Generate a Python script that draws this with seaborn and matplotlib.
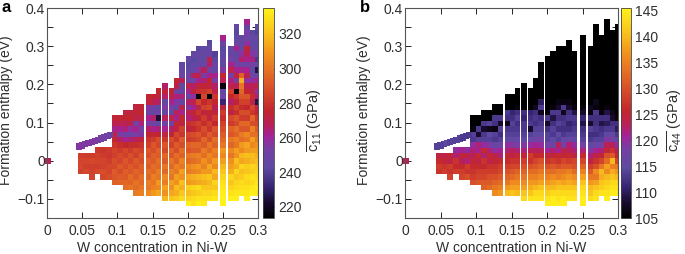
import numpy as np
import pandas as pd
import matplotlib
matplotlib.use("Agg")
import matplotlib.pyplot as plt
import seaborn as sns
from matplotlib.colors import LinearSegmentedColormap, Normalize
from matplotlib.cm import ScalarMappable

# column positions (W concentration) and lowest row of each column
col_x = [0.0476, 0.0557, 0.0638, 0.0718, 0.0799, 0.0880, 0.0960, 0.1038, 0.1115, 0.1191, 0.1268, 0.1345,
         0.1442, 0.1513, 0.1584, 0.1681, 0.1777, 0.1848, 0.1920, 0.2016, 0.2087, 0.2161, 0.2235, 0.2309,
         0.2386, 0.2502, 0.2616, 0.2693, 0.2770, 0.2846, 0.2923, 0.3000]
col_bottom = [-2, -2, -3, -2, -3, -3, -4, -4, -5, -5, -6, -6, -6, -6, -6, -7, -7, -7, -7, -8, -8, -8, -8, -7,
              -7, -8, -7, -7, -6, -7, -6, -6]
row_step = 0.014  # eV per row

# c11 per column, bottom to top
c11_cols = [
    [284, 286, 285, 283],
    [286, 283, 285, 282],
    [285, 284, 283, 286, 282],
    [287, 283, 285, 284, 281],
    [286, 288, 284, 285, 282, 280],
    [288, 285, 286, 283, 280, 282],
    [294, 290, 292, 286, 288, 283, 285, 280, 276, 272, 262, 270, 274],
    [295, 292, 288, 291, 285, 287, 282, 278, 266, 254, 262, 270, 274],
    [298, 296, 291, 293, 288, 290, 284, 286, 276, 262, 252, 264, 268, 274, 272],
    [300, 295, 297, 290, 292, 286, 289, 282, 278, 264, 250, 258, 270, 276, 272],
    [302, 297, 299, 293, 295, 289, 291, 284, 287, 278, 268, 254, 262, 252, 270, 274, 272],
    [304, 300, 296, 298, 292, 294, 288, 290, 284, 280, 272, 256, 250, 264, 272, 276, 274],
    [306, 300, 303, 296, 298, 292, 295, 289, 291, 284, 280, 274, 266, 252, 262, 248, 256, 272, 276],
    [310, 304, 300, 303, 296, 298, 292, 294, 288, 290, 282, 276, 262, 250, 266, 244, 252, 270, 274],
    [314, 306, 310, 300, 302, 296, 298, 292, 294, 286, 288, 274, 264, 246, 224, 252, 244, 266, 272, 276],
    [318, 308, 312, 302, 306, 296, 300, 292, 296, 286, 290, 280, 272, 262, 250, 268, 246, 256, 244, 266, 272, 266],
    [322, 314, 308, 312, 300, 304, 296, 300, 290, 294, 284, 288, 274, 266, 252, 270, 246, 254, 262, 270, 274],
    [324, 316, 320, 308, 312, 300, 304, 294, 298, 288, 292, 282, 286, 272, 276, 262, 268, 246, 256, 264, 250, 272, 276],
    [328, 322, 316, 320, 308, 312, 300, 304, 294, 298, 288, 292, 280, 284, 272, 276, 262, 270, 248, 264, 246, 244,
     268, 250, 246, 244],
    [334, 326, 320, 324, 310, 314, 302, 306, 296, 300, 290, 294, 282, 286, 272, 278, 264, 270, 256, 266, 248, 262,
     270, 246, 250, 244, 242, 246],
    [330, 328, 322, 326, 312, 316, 304, 308, 298, 302, 292, 296, 284, 288, 276, 280, 268, 274, 262, 270, 258, 272,
     266, 250, 268, 246, 244, 242, 246],
    [334, 330, 324, 328, 314, 318, 306, 310, 300, 304, 292, 296, 286, 290, 280, 284, 274, 280, 270, 286, 216, 278,
     272, 262, 270, 256, 246, 244, 246, 242],
    [332, 330, 326, 322, 316, 320, 310, 304, 308, 298, 302, 292, 296, 284, 288, 278, 282, 272, 284, 276, 286, 280,
     274, 264, 254, 268, 248, 244, 246, 244],
    [330, 326, 322, 318, 322, 310, 314, 302, 306, 296, 300, 288, 292, 280, 284, 272, 276, 286, 280, 216, 284, 272,
     276, 262, 250, 266, 270, 248, 244, 242],
    [332, 328, 322, 326, 314, 318, 306, 310, 300, 304, 294, 298, 286, 290, 276, 282, 272, 268, 276, 280, 270, 266,
     254, 262, 246, 250, 242, 240],
    [336, 336, 334, 332, 330, 326, 322, 318, 312, 306, 310, 300, 296, 292, 288, 284, 278, 282, 272, 232, 250, 246,
     216, 268, 276, 256, 244, 246, 244, 242, 248, 262],
    [334, 330, 326, 322, 326, 316, 312, 308, 300, 306, 296, 300, 290, 294, 282, 286, 272, 278, 266, 276, 284, 270,
     264, 254, 270, 262, 252, 248, 246],
    [334, 332, 328, 326, 322, 326, 316, 320, 308, 312, 300, 304, 294, 298, 286, 290, 278, 284, 274, 280, 216, 268,
     254, 272, 262, 254, 246, 244, 262, 250, 244, 242, 246],
    [332, 330, 328, 324, 320, 326, 314, 318, 306, 310, 298, 302, 290, 296, 282, 288, 278, 284, 290, 296, 300, 316,
     294, 262, 250, 266, 258, 246, 244, 246],
    [334, 332, 330, 326, 328, 322, 324, 316, 320, 310, 314, 300, 306, 290, 296, 282, 288, 276, 284, 290, 274, 268,
     258, 270, 262, 250, 262, 268, 274, 258, 250, 254, 246, 262],
    [334, 332, 328, 330, 324, 326, 318, 320, 312, 306, 312, 298, 304, 288, 296, 280, 286, 270, 278, 272, 268, 258,
     250, 244, 254, 264, 256, 248, 244, 246, 242],
    [332, 334, 332, 328, 326, 324, 320, 316, 312, 308, 302, 298, 292, 286, 282, 276, 270, 226, 264, 258, 270, 262,
     250, 226, 246, 238, 252, 248, 244, 246, 240, 244],
]

# c44 per column, bottom to top
c44_cols = [
    [127, 128, 126, 124],
    [128, 127, 125, 124],
    [129, 127, 128, 124, 125],
    [128, 126, 127, 122, 120],
    [129, 128, 126, 123, 125, 121],
    [130, 127, 128, 122, 124, 120],
    [130, 128, 127, 126, 125, 123, 122, 120, 113, 114, 106, 105, 105],
    [131, 129, 128, 126, 124, 126, 121, 122, 114, 108, 113, 105, 105],
    [132, 131, 129, 128, 126, 127, 122, 126, 120, 114, 113, 108, 113, 105, 105],
    [133, 131, 130, 128, 127, 124, 126, 122, 119, 114, 115, 107, 114, 105, 105],
    [136, 134, 132, 130, 128, 127, 125, 124, 120, 116, 113, 114, 106, 112, 113, 105, 105],
    [137, 135, 133, 131, 129, 128, 126, 122, 121, 117, 114, 112, 114, 108, 113, 105, 105],
    [140, 137, 134, 132, 130, 128, 126, 125, 122, 120, 115, 114, 113, 107, 112, 113, 105, 105, 105],
    [141, 138, 136, 133, 131, 129, 127, 124, 123, 119, 115, 114, 113, 114, 112, 111, 105, 105, 105],
    [140, 138, 136, 134, 132, 129, 127, 126, 122, 118, 116, 114, 113, 112, 114, 112, 106, 105, 105, 105],
    [143, 141, 138, 136, 134, 132, 130, 128, 125, 122, 119, 115, 114, 113, 113, 111, 112, 105, 105, 105, 105, 105],
    [144, 141, 139, 137, 135, 133, 130, 127, 128, 123, 120, 116, 114, 108, 113, 112, 111, 105, 105, 105, 105],
    [144, 143, 140, 137, 135, 133, 131, 129, 126, 123, 121, 117, 115, 114, 112, 113, 112, 107, 105, 105, 105, 105, 105],
    [144, 143, 141, 138, 136, 134, 132, 130, 126, 123, 120, 118, 115, 114, 113, 112, 107, 113, 110, 105, 105, 105,
     105, 105, 105, 105],
    [145, 144, 142, 140, 137, 135, 133, 130, 127, 125, 121, 118, 114, 114, 112, 108, 113, 106, 105, 105, 105, 105,
     105, 105, 105, 105, 105, 105],
    [145, 145, 143, 140, 138, 136, 133, 131, 128, 125, 122, 117, 115, 113, 114, 112, 109, 113, 106, 105, 105, 105,
     105, 105, 105, 105, 105, 105, 105],
    [145, 144, 143, 141, 139, 135, 134, 130, 127, 126, 121, 123, 114, 115, 112, 114, 112, 113, 108, 106, 105, 105,
     105, 105, 105, 105, 105, 105, 105, 105],
    [145, 145, 143, 141, 138, 136, 134, 131, 129, 125, 124, 118, 116, 113, 112, 113, 112, 107, 113, 106, 105, 105,
     105, 105, 105, 105, 105, 105, 105, 105],
    [144, 143, 141, 139, 137, 135, 131, 128, 126, 123, 122, 116, 114, 112, 111, 113, 112, 108, 106, 105, 105, 105,
     105, 105, 105, 105, 105, 105, 105, 105],
    [144, 143, 141, 138, 136, 133, 130, 129, 124, 122, 120, 115, 114, 113, 112, 113, 109, 106, 105, 105, 105, 105,
     105, 105, 105, 105, 105, 105],
    [145, 145, 144, 143, 141, 138, 135, 132, 129, 126, 122, 118, 114, 113, 112, 109, 111, 108, 106, 105, 105, 105,
     105, 105, 105, 105, 105, 105, 105, 105, 105, 105],
    [143, 141, 140, 137, 134, 131, 128, 124, 122, 119, 115, 113, 112, 114, 108, 112, 106, 107, 105, 105, 105, 105,
     105, 105, 105, 105, 105, 105, 105],
    [144, 143, 141, 138, 134, 136, 130, 127, 124, 121, 117, 114, 112, 113, 112, 112, 113, 106, 107, 105, 105, 105,
     105, 105, 105, 105, 105, 105, 105, 105, 105, 105, 105],
    [144, 142, 141, 139, 140, 134, 129, 125, 122, 118, 114, 113, 112, 109, 112, 106, 105, 105, 105, 105, 105, 105,
     105, 105, 105, 105, 105, 105, 105, 105],
    [145, 144, 143, 142, 140, 136, 138, 133, 130, 125, 123, 119, 115, 113, 110, 112, 109, 106, 105, 105, 105, 105,
     105, 105, 105, 105, 105, 105, 105, 105, 105, 105, 105, 105],
    [145, 144, 143, 141, 139, 135, 140, 131, 127, 123, 118, 116, 113, 112, 108, 107, 105, 105, 105, 105, 105, 105,
     105, 105, 105, 105, 105, 105, 105, 105, 105],
    [145, 144, 143, 140, 137, 134, 129, 126, 123, 120, 115, 113, 110, 112, 106, 105, 105, 105, 105, 105, 105, 105,
     105, 105, 105, 105, 105, 105, 105, 105, 105, 105],
]

# thin diagonal strip above the low-concentration block
strip_x = [0.0455, 0.0500, 0.0545, 0.0590, 0.0635, 0.0680, 0.0725, 0.0770, 0.0815, 0.0860, 0.0900]
strip_y = [0.037, 0.040, 0.043, 0.046, 0.049, 0.052, 0.055, 0.058, 0.061, 0.064, 0.067]
strip_c11 = [256, 256, 254, 256, 254, 256, 254, 254, 252, 252, 250]
strip_c44 = [114, 114, 114, 115, 114, 114, 114, 114, 113, 113, 113]

# pure Ni point
ni_x = [0.002]
ni_y = [0.0]
ni_c11 = [268]
ni_c44 = [123]

x_ticks = [0, 0.05, 0.1, 0.15, 0.2, 0.25, 0.3]
x_labels = ["0", "0.05", "0.1", "0.15", "0.2", "0.25", "0.3"]
y_ticks = [-0.1, 0, 0.1, 0.2, 0.3, 0.4]
y_labels = ["\u22120.1", "0", "0.1", "0.2", "0.3", "0.4"]
y_minor = [-0.15, -0.05, 0.05, 0.15, 0.25, 0.35]
c11_ticks = [220, 240, 260, 280, 300, 320]
c44_ticks = [105, 110, 115, 120, 125, 130, 135, 140, 145]

sns.set_theme(style="ticks")
plt.rcParams["font.family"] = ["Liberation Sans", "DejaVu Sans"]
plt.rcParams["mathtext.fontset"] = "custom"
plt.rcParams["mathtext.rm"] = "Liberation Sans"
plt.rcParams["mathtext.it"] = "Liberation Sans"

anchors = [(0.0, "#000000"), (0.07, "#170a2a"), (0.14, "#34226e"), (0.24, "#5e4aa3"), (0.33, "#7540a3"),
           (0.39, "#a3229a"), (0.44, "#b8205a"), (0.51, "#c2262e"), (0.62, "#d8502a"), (0.78, "#f0901f"),
           (0.88, "#f8c01c"), (1.0, "#fff21a")]
cmap = LinearSegmentedColormap.from_list("ni_w", anchors)

W, H = 685, 254
TXT = "#2e2e2e"
FS = 10


def to_frame(cols):
    xs, ys, cs = [], [], []
    for x, b, vals in zip(col_x, col_bottom, cols):
        for i, v in enumerate(vals):
            xs.append(x)
            ys.append((b + i) * row_step)
            cs.append(v)
    return pd.DataFrame({"x": xs, "y": ys, "c": cs})


def panel(fig, left, right, c_left, c_right, cols, strip_c, ni_c, vmin, vmax, c_ticks, letter, letter_x, label, label_x, ylab_x):
    ax = fig.add_axes([left / W, 1 - 218 / H, (right - left) / W, 210 / H])
    norm = Normalize(vmin, vmax)
    df = to_frame(cols)
    strip = pd.DataFrame({"x": strip_x, "y": strip_y, "c": strip_c})
    ni = pd.DataFrame({"x": ni_x, "y": ni_y, "c": ni_c})
    sns.scatterplot(data=df, x="x", y="y", hue="c", palette=cmap, hue_norm=norm, marker="s", s=17,
                    linewidth=0, legend=False, ax=ax)
    sns.scatterplot(data=strip, x="x", y="y", hue="c", palette=cmap, hue_norm=norm, marker="s", s=20,
                    linewidth=0, legend=False, ax=ax)
    sns.scatterplot(data=ni, x="x", y="y", hue="c", palette=cmap, hue_norm=norm, marker="s", s=16,
                    linewidth=0, legend=False, ax=ax, clip_on=False)
    ax.set_xlim(0, 0.3)
    ax.set_ylim(-0.15, 0.4)
    ax.set_xticks(x_ticks)
    ax.set_xticklabels(x_labels)
    ax.set_yticks(y_ticks)
    ax.set_yticklabels(y_labels)
    ax.set_yticks(y_minor, minor=True)
    ax.tick_params(axis="both", which="both", direction="in", top=True, right=True, length=4.5, width=0.7,
                   color="#222222", labelsize=FS, labelcolor=TXT)
    ax.tick_params(axis="y", pad=1.5)
    ax.tick_params(axis="x", pad=4)
    for s in ax.spines.values():
        s.set_linewidth(0.8)
        s.set_color("#555555")
    ax.set_xlabel("")
    ax.set_ylabel("")
    fig.text((left + right) / 2 / W, 1 - 248 / H, "W concentration in Ni-W", ha="center", va="center",
             fontsize=FS, color=TXT)
    fig.text(ylab_x / W, 1 - 110 / H, "Formation enthalpy (eV)", rotation=90, ha="center", va="center",
             fontsize=FS, color=TXT)
    fig.text(letter_x / W, 1 - 8 / H, letter, fontsize=12, fontweight="bold", color="black", ha="left", va="center")

    cax = fig.add_axes([c_left / W, 1 - 218 / H, (c_right - c_left) / W, 210 / H])
    cb = fig.colorbar(ScalarMappable(norm=norm, cmap=cmap), cax=cax)
    cb.set_ticks(c_ticks)
    cb.minorticks_off()
    cb.outline.set_linewidth(0.6)
    cb.outline.set_edgecolor("#444444")
    cax.tick_params(direction="in", length=(c_right - c_left) * 0.72, width=0.6, color="#222222", labelsize=FS,
                    labelcolor=TXT, pad=3)
    fig.text(label_x / W, 1 - 120 / H, label, rotation=90, ha="center", va="center", fontsize=FS + 0.5, color=TXT)
    return ax


fig = plt.figure(figsize=(W / 100, H / 100), dpi=100)
panel(fig, 47, 258, 263, 274, c11_cols, strip_c11, ni_c11, 213.6, 335, c11_ticks, "a", 2,
      r"$\overline{\mathrm{c}_{11}}$ (GPa)", 315, 6)
panel(fig, 405, 618, 621, 631, c44_cols, strip_c44, ni_c44, 105, 145.5, c44_ticks, "b", 360,
      r"$\overline{\mathrm{c}_{44}}$ (GPa)", 675, 364)
fig.savefig("out.png", dpi=100)
